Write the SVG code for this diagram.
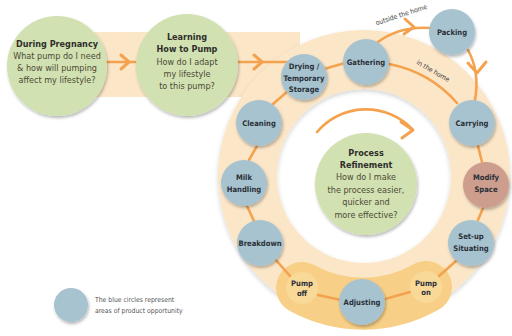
<svg xmlns="http://www.w3.org/2000/svg" width="512" height="336" viewBox="0 0 512 336">
<defs>
<filter id="sh" x="-30%" y="-30%" width="160%" height="160%">
<feDropShadow dx="1" dy="2" stdDeviation="1.8" flood-color="#000" flood-opacity="0.28"/>
</filter>
<filter id="shs" x="-10%" y="-10%" width="120%" height="120%">
<feDropShadow dx="0" dy="2" stdDeviation="2" flood-color="#000" flood-opacity="0.18"/>
</filter>
<style>
text{font-family:"Liberation Sans Narrow","DejaVu Sans Condensed","Liberation Sans",sans-serif;text-anchor:middle}
.blue{fill:#a7c3cf;filter:url(#sh)}
.green{fill:#d2e1b2;filter:url(#sh)}
.red{fill:#cd9d8d;filter:url(#sh)}
.pump{fill:#f9d998}
.lb{font-size:7.6px;font-weight:bold;fill:#2b3038}
.gt{font-size:9px;font-weight:bold;fill:#2e2e2a}
.gb{font-size:9px;fill:#4b4a36}
.ln{fill:none;stroke:#f4a24e;stroke-width:2.6;stroke-linecap:round}
.ah{fill:none;stroke:#f4a24e;stroke-width:3;stroke-linecap:round;stroke-linejoin:round}
.sm{font-size:6.8px;fill:#3a3a3a}
</style>
</defs>
<rect width="512" height="336" fill="#fff"/>
<g id="background">
<path d="M57 32 H300 V97 H57 Z" fill="#fce6c8"/>
<path fill="#fce6c8" fill-rule="evenodd" filter="url(#shs)" d="M218 176 A146 146 0 1 0 510 176 A146 146 0 1 0 218 176 Z M277 176 A87 87 0 1 0 451 176 A87 87 0 1 0 277 176 Z"/>
<path d="M302 288 A127 127 0 0 0 426 287" fill="none" stroke="#f7cf86" stroke-width="52" stroke-linecap="round"/>
</g>
<g id="connectors">
<line class="ln" x1="107" y1="62" x2="137" y2="62"/>
<polyline class="ah" points="121,55 129,62 121,69"/>
<line class="ln" x1="237" y1="62" x2="287" y2="62"/>
<polyline class="ah" points="254,55 262,62 254,69"/>
<line class="ln" x1="324" y1="69" x2="345" y2="63"/>
<line class="ln" x1="273" y1="104" x2="288" y2="91"/>
<line class="ln" x1="257" y1="146" x2="249" y2="160"/>
<line class="ln" x1="247" y1="206" x2="254" y2="221"/>
<line class="ln" x1="275" y1="259" x2="290" y2="276"/>
<line class="ln" x1="318" y1="295" x2="341" y2="300"/>
<line class="ln" x1="385" y1="299" x2="410" y2="292"/>
<line class="ln" x1="439" y1="276" x2="456" y2="261"/>
<line class="ln" x1="478" y1="220" x2="483" y2="208"/>
<line class="ln" x1="482" y1="162" x2="478" y2="146"/>
<path class="ln" d="M389 64 Q430 72 457 103"/>
<path class="ln" d="M378 42 Q400 26 430 28"/>
<polyline class="ah" points="405,19 414,27 404,34"/>
<path class="ln" d="M468 50 Q480 72 475 100"/>
<polyline class="ah" points="468,63 477,73 486,62"/>
<path class="ln" d="M317 132 A64 64 0 0 1 412 129" stroke-width="3"/>
<polyline class="ah" points="401,122 413,130 402,138"/>
</g>
<g id="labels">
<text class="sm" transform="translate(402 17) rotate(-18)">outside the home</text>
<text class="sm" transform="translate(432 73) rotate(30)">in the home</text>
</g>
<g id="n-pregnancy">
<circle class="green" cx="57" cy="66" r="50"/>
<text class="gt" x="57" y="46.5">During Pregnancy</text>
<text class="gb" x="57" y="58.5">What pump do I need</text>
<text class="gb" x="57" y="70.5">&amp; how will pumping</text>
<text class="gb" x="57" y="82.5">affect my lifestyle?</text>
</g>
<g id="n-learning">
<circle class="green" cx="187" cy="65" r="51"/>
<text class="gt" x="187" y="40">Learning</text>
<text class="gt" x="187" y="52">How to Pump</text>
<text class="gb" x="187" y="65">How do I adapt</text>
<text class="gb" x="187" y="77">my lifestyle</text>
<text class="gb" x="187" y="89">to this pump?</text>
</g>
<g id="n-process">
<circle class="green" cx="366" cy="184" r="51"/>
<text class="gt" x="366" y="155.5">Process</text>
<text class="gt" x="366" y="167.5">Refinement</text>
<text class="gb" x="366" y="180">How do I make</text>
<text class="gb" x="366" y="192.5">the process easier,</text>
<text class="gb" x="366" y="205">quicker and</text>
<text class="gb" x="366" y="217.5">more effective?</text>
</g>
<g id="n-drying">
<circle class="blue" cx="304" cy="77" r="23"/>
<text class="lb" x="304" y="69">Drying /</text>
<text class="lb" x="304" y="80.5">Temporary</text>
<text class="lb" x="304" y="92">Storage</text>
</g>
<g id="n-gathering">
<circle class="blue" cx="366" cy="62" r="23"/>
<text class="lb" x="366" y="65">Gathering</text>
</g>
<g id="n-packing">
<circle class="blue" cx="452" cy="32" r="23"/>
<text class="lb" x="452" y="35">Packing</text>
</g>
<g id="n-carrying">
<circle class="blue" cx="472" cy="123" r="23"/>
<text class="lb" x="472" y="126">Carrying</text>
</g>
<g id="n-modify">
<circle class="red" cx="486" cy="185" r="23"/>
<text class="lb" x="486" y="180">Modify</text>
<text class="lb" x="486" y="192">Space</text>
</g>
<g id="n-setup">
<circle class="blue" cx="471" cy="243" r="23"/>
<text class="lb" x="471" y="239">Set-up</text>
<text class="lb" x="471" y="250.5">Situating</text>
</g>
<g id="n-pumpon">
<circle class="pump" cx="426" cy="287" r="16"/>
<text class="lb" x="426" y="285.5">Pump</text>
<text class="lb" x="426" y="295">on</text>
</g>
<g id="n-adjusting">
<circle class="blue" cx="362" cy="302" r="23"/>
<text class="lb" x="362" y="305">Adjusting</text>
</g>
<g id="n-pumpoff">
<circle class="pump" cx="302" cy="288" r="16"/>
<text class="lb" x="302" y="286">Pump</text>
<text class="lb" x="302" y="295.5">off</text>
</g>
<g id="n-breakdown">
<circle class="blue" cx="260" cy="243" r="23"/>
<text class="lb" x="260" y="246">Breakdown</text>
</g>
<g id="n-milk">
<circle class="blue" cx="244" cy="183" r="23"/>
<text class="lb" x="244" y="180">Milk</text>
<text class="lb" x="244" y="192">Handling</text>
</g>
<g id="n-cleaning">
<circle class="blue" cx="259" cy="123" r="23"/>
<text class="lb" x="259" y="126">Cleaning</text>
</g>
<g id="legend">
<circle class="blue" cx="71" cy="305" r="17"/>
<text class="sm" x="95" y="302" style="text-anchor:start;fill:#555">The blue circles represent</text>
<text class="sm" x="95" y="313" style="text-anchor:start;fill:#555">areas of product opportunity</text>
</g>
</svg>
